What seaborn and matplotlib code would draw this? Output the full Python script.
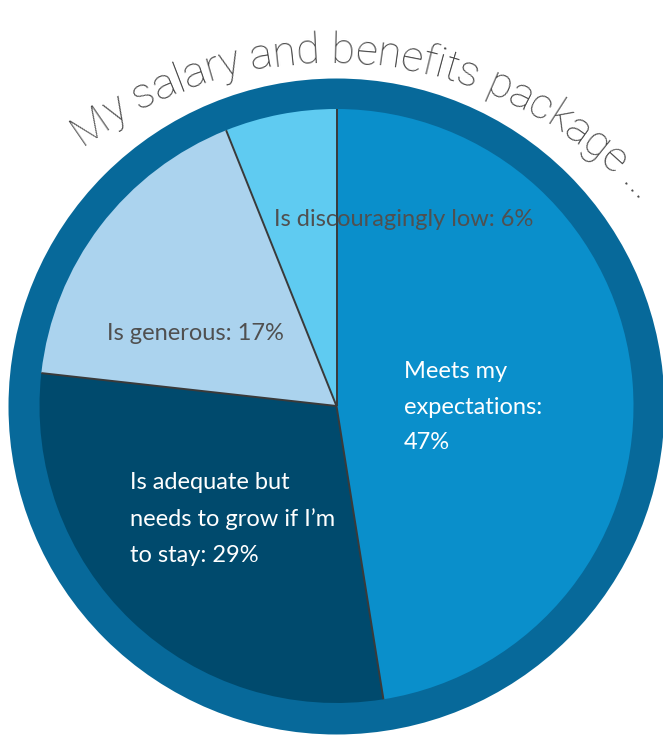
import numpy as np
import matplotlib
matplotlib.use("Agg")
import matplotlib.pyplot as plt
import seaborn as sns
from matplotlib.patches import Circle

# Survey shares (percent of respondents)
categories = [
    "Meets my expectations",
    "Is adequate but needs to grow if I’m to stay",
    "Is generous",
    "Is discouragingly low",
]
shares = [47, 29, 17, 6]
label_templates = [
    "Meets my\nexpectations:\n{}%",
    "Is adequate but\nneeds to grow if I’m\nto stay: {}%",
    "Is generous: {}%",
    "Is discouragingly low: {}%",
]
title_text = "My salary and benefits package ..."

slice_colors = ["#0a8fcb", "#004a6d", "#abd3ee", "#5fcbf1"]
label_colors = ["white", "white", "#505050", "#505050"]
ring_color = "#07699a"

sns.set_theme(style="white")
plt.rcParams["font.family"] = ["Lato", "DejaVu Sans"]

W, H, DPI = 663, 736, 100
fig = plt.figure(figsize=(W / DPI, H / DPI), dpi=DPI)
ax = fig.add_axes([0, 0, 1, 1])

# pixel-like coordinates, y measured upward
pie_center = (336.5, H - 406)
pie_radius = 297
ring_radius = 328

ax.add_patch(Circle((336.5, H - 406.5), ring_radius, facecolor=ring_color,
                    edgecolor="none", zorder=0))

wedges, _ = ax.pie(
    shares,
    colors=sns.color_palette(slice_colors),
    startangle=90,
    counterclock=False,
    center=pie_center,
    radius=pie_radius,
    wedgeprops=dict(linewidth=0, zorder=1),
)

# thin dividers between slices
for w in wedges:
    th = np.deg2rad(w.theta1)
    cx, cy = w.center
    ax.plot([cx, cx + w.r * np.cos(th)], [cy, cy + w.r * np.sin(th)],
            color="#3a3a3a", lw=1.4, zorder=2, solid_capstyle="butt")

# slice labels: (left x, vertical centre) in pixels from the top-left
label_pos = [(404, 407), (130, 519), (107, 333), (274, 220)]
for tmpl, val, col, (lx, ly) in zip(label_templates, shares, label_colors, label_pos):
    ax.text(lx, H - ly, tmpl.format(val), ha="left", va="center",
            multialignment="left", fontsize=17, color=col,
            linespacing=1.85, zorder=3)

ax.set_xlim(0, W)
ax.set_ylim(0, H)
ax.set_aspect("equal")
ax.axis("off")

# title set along an arc above the pie
renderer = fig.canvas.get_renderer()
title_kw = dict(fontsize=31, fontfamily=["Roboto", "DejaVu Sans"],
                fontweight="light", color="#4a4a4a")


def ink_width(s):
    t = ax.text(0, 0, s, **title_kw)
    wpx = t.get_window_extent(renderer).width
    t.remove()
    return wpx


arc_c = (330, H - 475)
arc_r = 412
start_deg, end_deg = 127.0, 41.3
arc_len = np.deg2rad(start_deg - end_deg) * arc_r

ref = ink_width("I")
starts = [0.0] + [ink_width(title_text[:i] + "I") - ref
                  for i in range(1, len(title_text) + 1)]
# spread the letters evenly so the title fills the arc
n = len(title_text)
track = (arc_len - starts[-1]) / (n - 1)
starts = [s + i * track for i, s in enumerate(starts)]
total = starts[-1] - track

mid_angle = np.deg2rad((start_deg + end_deg) / 2)
for i, ch in enumerate(title_text):
    if ch == " ":
        continue
    s_mid = (starts[i] + starts[i + 1] - track) / 2 - total / 2
    ang = mid_angle - s_mid / arc_r
    x = arc_c[0] + arc_r * np.cos(ang)
    y = arc_c[1] + arc_r * np.sin(ang)
    ax.text(x, y, ch, ha="center", va="baseline", rotation=np.rad2deg(ang) - 90,
            rotation_mode="anchor", zorder=3, **title_kw)

fig.savefig("out.png", dpi=DPI, facecolor="white")
